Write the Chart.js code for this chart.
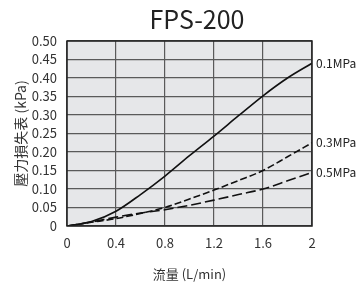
<!DOCTYPE html>
<html lang="zh-Hant">
<head>
  <meta charset="UTF-8">
  <title>FPS-200</title>
  <script src="https://cdn.jsdelivr.net/npm/chart.js"></script>
  <style>
    html, body { margin: 0; padding: 0; background: #fff; }
    #wrap { width: 362px; height: 288px; }
  </style>
</head>
<body>
  <div id="wrap"><canvas id="chart" width="362" height="288"></canvas></div>
  <script>
    // data
    const chartTitle = 'FPS-200';
    const flow = [0, 0.2, 0.4, 0.6, 0.8, 1.0, 1.2, 1.4, 1.6, 1.8, 2.0];
    const loss01 = [0, 0.012, 0.04, 0.085, 0.135, 0.19, 0.243, 0.298, 0.352, 0.4, 0.44];
    const loss03 = [0, 0.01, 0.02, 0.034, 0.05, 0.073, 0.097, 0.123, 0.15, 0.187, 0.225];
    const loss05 = [0, 0.011, 0.024, 0.035, 0.044, 0.056, 0.07, 0.085, 0.1, 0.122, 0.145];
    const seriesNames = ['0.1MPa', '0.3MPa', '0.5MPa'];
    const xTicks = [0, 0.4, 0.8, 1.2, 1.6, 2];

    const font = '"Noto Sans CJK TC", "Noto Sans", sans-serif';

    const pts = ys => flow.map((x, i) => ({ x: x, y: ys[i] }));

    // grey plot background, frame, title and end labels
    const extras = {
      id: 'extras',
      beforeDraw(chart) {
        const a = chart.chartArea, c = chart.ctx;
        c.save();
        c.fillStyle = '#e6e7e9';
        c.fillRect(a.left, a.top, a.right - a.left, a.bottom - a.top);
        c.restore();
      },
      afterDraw(chart) {
        const c = chart.ctx, a = chart.chartArea;
        c.save();
        c.strokeStyle = '#222';
        c.lineWidth = 1.5;
        c.strokeRect(a.left, a.top, a.right - a.left, a.bottom - a.top);

        c.fillStyle = '#222';
        c.font = '25px ' + font;
        c.textAlign = 'center';
        c.textBaseline = 'middle';
        c.fillText(chartTitle, 197, 19);

        c.fillStyle = '#222';
        c.font = '12px ' + font;
        c.textAlign = 'left';
        chart.data.datasets.forEach(ds => {
          const last = ds.data[ds.data.length - 1];
          const x = chart.scales.x.getPixelForValue(last.x);
          const y = chart.scales.y.getPixelForValue(last.y);
          c.fillText(ds.label, x + 4, y);
        });
        c.restore();
      }
    };

    new Chart(document.getElementById('chart'), {
      type: 'line',
      data: {
        datasets: [
          { label: seriesNames[0], data: pts(loss01), borderColor: '#111', borderWidth: 1.6 },
          { label: seriesNames[1], data: pts(loss03), borderColor: '#111', borderWidth: 1.6, borderDash: [7, 3] },
          { label: seriesNames[2], data: pts(loss05), borderColor: '#111', borderWidth: 1.6, borderDash: [10, 4] }
        ]
      },
      options: {
        responsive: false,
        animation: false,
        layout: { padding: { left: 0, right: 50, top: 41, bottom: 0 } },
        elements: { point: { radius: 0 }, line: { cubicInterpolationMode: 'monotone', fill: false } },
        plugins: {
          legend: { display: false },
          tooltip: { enabled: false },
          title: { display: false }
        },
        scales: {
          x: {
            type: 'linear',
            min: 0, max: 2,
            afterBuildTicks: s => { s.ticks = xTicks.map(v => ({ value: v })); },
            afterFit: s => { s.height = 62; },
            ticks: {
              color: '#333',
              font: { family: font, size: 13 },
              padding: 9,
              maxRotation: 0,
              autoSkip: false,
              callback: v => String(v)
            },
            grid: { color: '#5a5a5a', lineWidth: 1.2, drawTicks: false },
            border: { display: false },
            title: {
              display: true,
              text: '流量 (L/min)',
              color: '#333',
              font: { family: font, size: 13 },
              padding: { top: 0, bottom: 6 }
            }
          },
          y: {
            min: 0, max: 0.5,
            afterFit: s => { s.width = 67; },
            ticks: {
              stepSize: 0.05,
              autoSkip: false,
              color: '#333',
              font: { family: font, size: 13 },
              padding: 10,
              callback: v => (Math.abs(v) < 1e-9 ? '0' : v.toFixed(2))
            },
            grid: { color: '#5a5a5a', lineWidth: 1.2, drawTicks: false },
            border: { display: false },
            title: {
              display: true,
              text: '壓力損失表 (kPa)',
              color: '#333',
              font: { family: font, size: 14 },
              padding: { top: 12, bottom: 0 }
            }
          }
        }
      },
      plugins: [extras]
    });
  </script>
</body>
</html>
